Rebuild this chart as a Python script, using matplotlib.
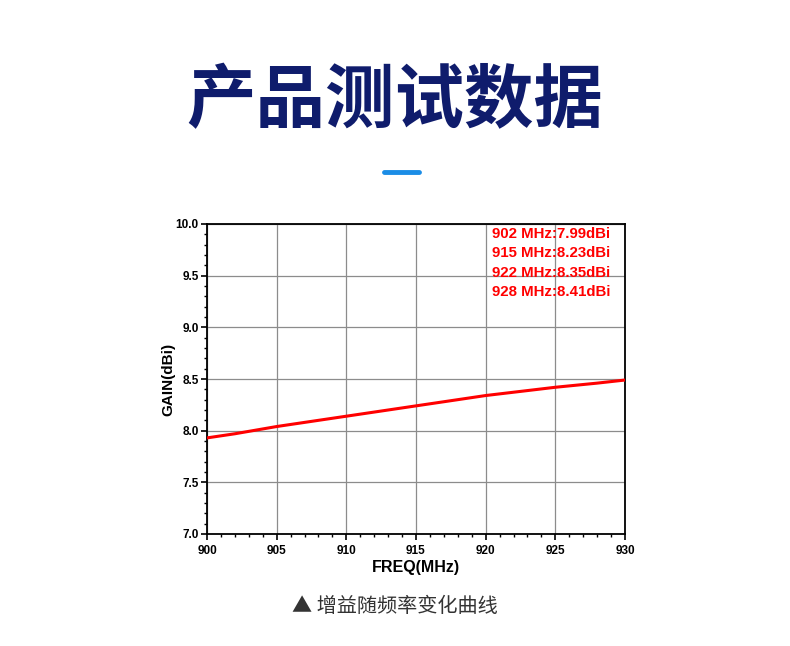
import numpy as np
import matplotlib
matplotlib.use("Agg")
import matplotlib.pyplot as plt
from matplotlib.ticker import MultipleLocator

plt.rcParams['font.family'] = ['Noto Sans CJK SC', 'DejaVu Sans']

# gain curve
freq = [900, 902, 905, 910, 915, 920, 925, 928, 930]
gain = [7.93, 7.97, 8.04, 8.14, 8.24, 8.34, 8.42, 8.46, 8.49]

notes = ["902 MHz:7.99dBi", "915 MHz:8.23dBi", "922 MHz:8.35dBi", "928 MHz:8.41dBi"]

fig = plt.figure(figsize=(7.9, 6.46), dpi=100)

# title and little blue bar
fig.text(0.5, 1 - 102 / 646, "产品测试数据", ha='center', va='center',
         fontsize=50, fontweight='bold', color='#0f1c6c')
fig.add_artist(plt.Line2D([384 / 790, 419 / 790], [1 - 172 / 646] * 2,
                          color='#1b8de6', lw=3.5, solid_capstyle='round'))

# axes: left 207, right 625, top 224, bottom 534
ax = fig.add_axes([207 / 790, 1 - 534 / 646, (625 - 207) / 790, (534 - 224) / 646])
ax.plot(freq, gain, color='#ff0000', lw=2.2, zorder=3)

ax.set_xlim(900, 930)
ax.set_ylim(7.0, 10.0)
ax.xaxis.set_major_locator(MultipleLocator(5))
ax.xaxis.set_minor_locator(MultipleLocator(1))
ax.yaxis.set_major_locator(MultipleLocator(0.5))
ax.yaxis.set_minor_locator(MultipleLocator(0.1))
ax.set_yticklabels([f"{v:.1f}" for v in ax.get_yticks()])
ax.grid(True, which='major', color='#8c8c8c', lw=0.9)
ax.set_axisbelow(True)

for s in ax.spines.values():
    s.set_linewidth(1.3)
ax.tick_params(which='major', direction='out', length=4, width=1.2, labelsize=8.5)
ax.tick_params(axis='x', which='major', pad=4)
ax.tick_params(axis='y', which='major', pad=2)
ax.tick_params(which='minor', direction='out', length=2.5, width=1.0)
for lab in ax.get_xticklabels() + ax.get_yticklabels():
    lab.set_fontweight('bold')
    lab.set_family(['Liberation Sans', 'DejaVu Sans'])

ax.set_xlabel("FREQ(MHz)", fontsize=11.5, fontweight='bold',
              family=['Liberation Sans', 'DejaVu Sans'], labelpad=2)
ax.set_ylabel("GAIN(dBi)", fontsize=11, fontweight='bold',
              family=['Liberation Sans', 'DejaVu Sans'], labelpad=0)

for i, t in enumerate(notes):
    ax.text(0.683, 0.967 - i * 0.062, t, transform=ax.transAxes, color='#ff0000',
            fontsize=10.8, fontweight='bold', va='center', ha='left',
            family=['Liberation Sans', 'DejaVu Sans'])

fig.text(0.5, 1 - 607 / 646, "▲ 增益随频率变化曲线", ha='center', va='center',
         fontsize=14.5, color='#333333', family=['Noto Sans CJK SC', 'DejaVu Sans'])

fig.savefig("out.png", dpi=100)
